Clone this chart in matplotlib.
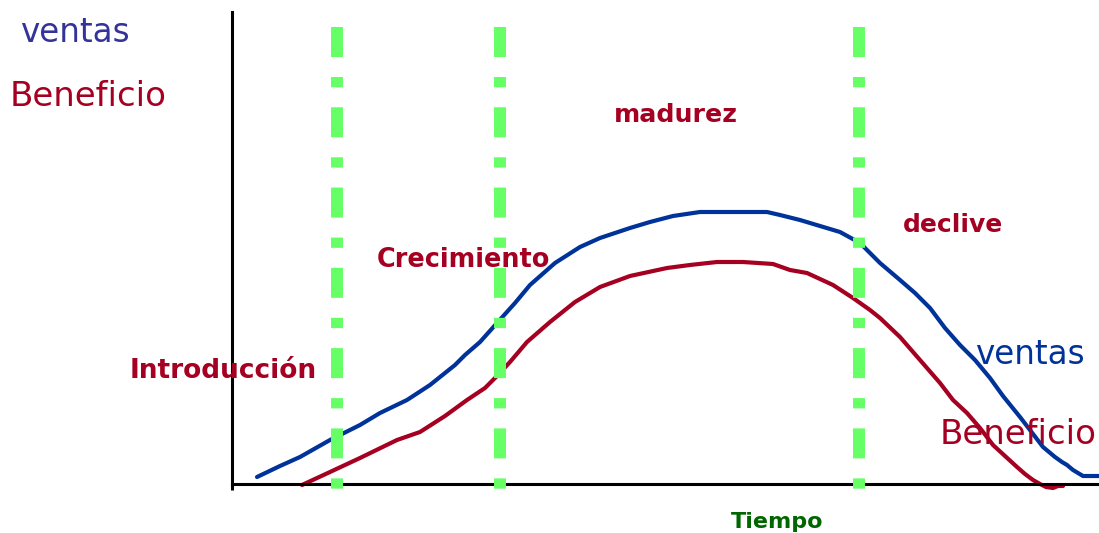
import matplotlib
matplotlib.use("Agg")
import matplotlib.pyplot as plt

plt.rcParams["lines.scale_dashes"] = False

# ---- data (time units along x, magnitude along y) ----
ventas_t = [25, 48, 68, 98, 108, 128, 148, 175, 198, 223, 233, 248, 265, 283, 298, 323, 348, 368,
            398, 418, 441, 468, 503, 535, 548, 568, 588, 608, 628, 648, 668, 683, 698, 713, 728,
            743, 758, 771, 788, 798, 811, 823, 830, 835, 841, 851, 867]
ventas_v = [7, 18, 27, 44, 49, 59, 71, 84, 99, 119, 129, 142, 161, 181, 199, 221, 237, 246,
            256, 262, 268, 272, 272, 272, 269, 264, 258, 252, 241, 221, 204, 191, 176, 156, 139,
            124, 106, 88, 67, 54, 37, 27, 22, 19, 14, 8, 8]

beneficio_t = [70, 98, 128, 165, 188, 213, 235, 253, 265, 278, 295, 318, 343, 368, 398, 435, 458,
               485, 511, 541, 558, 575, 601, 621, 638, 648, 668, 688, 708, 721, 735, 748, 761,
               773, 785, 793, 801, 808, 814, 821, 826, 831]
beneficio_v = [-1, 12, 26, 44, 52, 68, 84, 96, 108, 122, 142, 162, 182, 197, 208, 216, 219,
               222, 222, 220, 214, 211, 199, 186, 174, 166, 147, 124, 101, 84, 71, 56, 39,
               28, 17, 10, 4, 0, -3, -4, -2, -2]

fase_limites = [105, 268, 627]   # boundaries between phases on the time axis

W, H = 1099, 533
fig = plt.figure(figsize=(W / 100, H / 100), dpi=100)
ax = fig.add_axes([232 / W, (H - 484) / H, (W - 232) / W, (484 - 12) / H])
ax.set_xlim(0, 867)
ax.set_ylim(0, 472)
ax.set_xticks([])
ax.set_yticks([])
for s in ["top", "right"]:
    ax.spines[s].set_visible(False)
for s in ["left", "bottom"]:
    ax.spines[s].set_linewidth(2.2)
    ax.spines[s].set_color("black")
# left spine extends slightly below the axis
ax.plot([0, 0], [0, -6], color="black", lw=2.2, clip_on=False, solid_capstyle="butt")

GREEN = "#66FF66"
for x in fase_limites:
    ln, = ax.plot([x, x], [457, -5], color=GREEN, lw=8.6, clip_on=False,
                  solid_capstyle="butt", dash_capstyle="butt", zorder=3)
    ln.set_dashes((21.6, 14.4, 7.4, 14.4))

BLUE = "#003399"
RED = "#A50021"
ax.plot(ventas_t, ventas_v, color=BLUE, lw=3.0, clip_on=False, zorder=2,
        solid_joinstyle="round", solid_capstyle="round")
ax.plot(beneficio_t, beneficio_v, color=RED, lw=3.0, clip_on=False, zorder=2,
        solid_joinstyle="round", solid_capstyle="round")


def label(px, py, s, color, size, weight="normal"):
    fig.text(px / W, 1 - py / H, s, color=color, fontsize=size, fontweight=weight,
             family="DejaVu Sans", ha="left", va="baseline")


label(20, 42, "ventas", "#333399", 23.5)
label(10, 106, "Beneficio", RED, 24.5)
label(614, 122, "madurez", RED, 18.2, "bold")
label(903, 232, "declive", RED, 18, "bold")
label(377, 267, "Crecimiento", RED, 18.4, "bold")
label(130, 378, "Introducción", RED, 19, "bold")
label(975, 364, "ventas", BLUE, 23.5)
label(940, 444, "Beneficio", RED, 24.5)
label(731, 528, "Tiempo", "#006600", 16, "bold")

fig.savefig("out.png", dpi=100)
